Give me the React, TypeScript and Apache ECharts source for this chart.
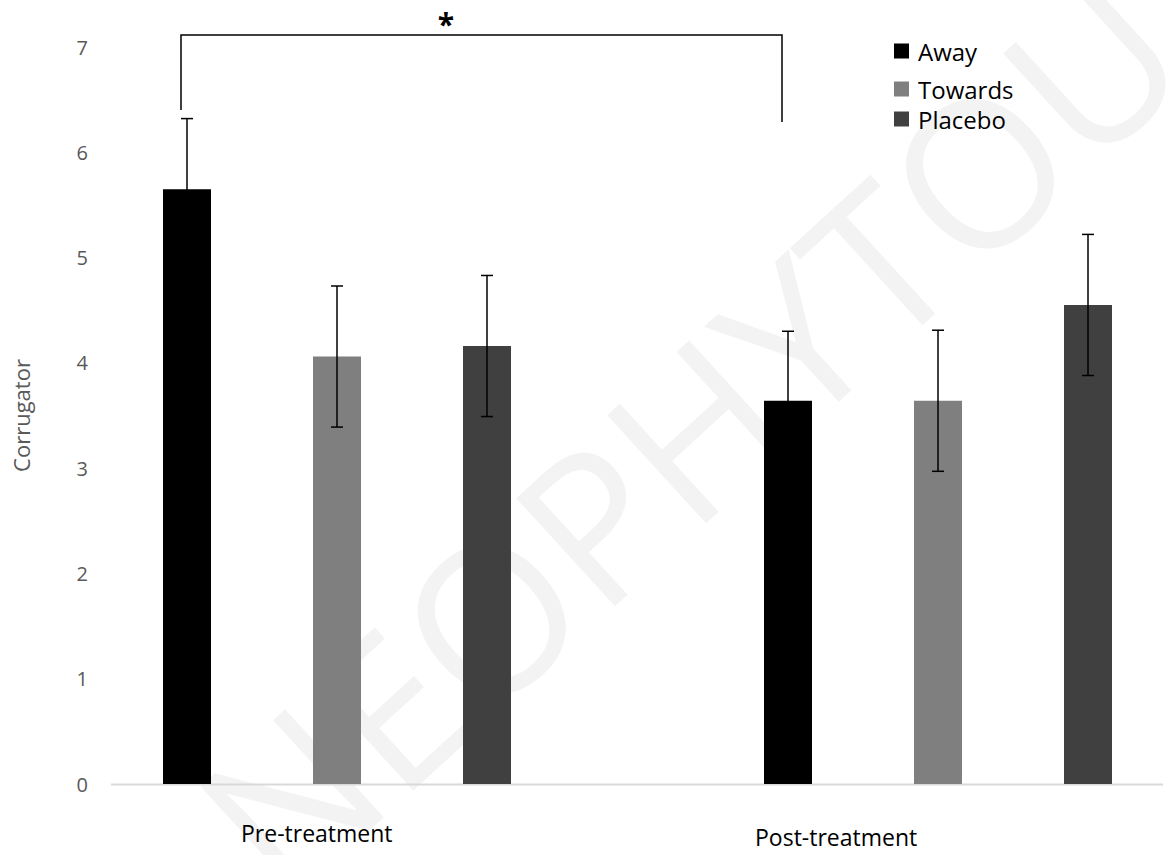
import React, { useEffect, useRef } from "react";
import * as echarts from "echarts";

const categories = ["Pre-treatment", "Post-treatment"];
const seriesNames = ["Away", "Towards", "Placebo"];
const awayMeans = [5.65, 3.64];
const towardsMeans = [4.06, 3.64];
const placeboMeans = [4.16, 4.55];
const awayErr = [0.67, 0.66];
const towardsErr = [0.67, 0.67];
const placeboErr = [0.67, 0.67];
const yTicks = [0, 1, 2, 3, 4, 5, 6, 7];

const COLORS = ["#000000", "#7f7f7f", "#404040"];
const BAR_WIDTH = 48;
const BAR_GAP = 2.125; // fraction of bar width
const FONT = "'Open Sans', sans-serif";

export default function App() {
  const ref = useRef<HTMLDivElement>(null);

  useEffect(() => {
    if (!ref.current) return;
    const chart = echarts.init(ref.current, null, { renderer: "svg" });

    const means = [awayMeans, towardsMeans, placeboMeans];
    const errs = [awayErr, towardsErr, placeboErr];
    const step = BAR_WIDTH * (1 + BAR_GAP);

    const barSeries = seriesNames.map((name, i) => ({
      name,
      type: "bar",
      data: means[i],
      barWidth: BAR_WIDTH,
      barGap: BAR_GAP * 100 + "%",
      itemStyle: { color: COLORS[i] },
      z: 2,
    }));

    const errSeries = seriesNames.map((name, i) => ({
      name: name + " error",
      type: "custom",
      z: 3,
      data: categories.map((_, c) => [c, means[i][c], errs[i][c]]),
      renderItem: (params: any, api: any) => {
        const c = api.value(0);
        const m = api.value(1);
        const e = api.value(2);
        const x = api.coord([c, m])[0] + (i - 1) * step;
        const yTop = api.coord([c, m + e])[1];
        const yBot = api.coord([c, m - e])[1];
        const st = { stroke: "#000", lineWidth: 1.5 };
        return {
          type: "group",
          children: [
            { type: "line", shape: { x1: x, y1: yTop, x2: x, y2: yBot }, style: st },
            { type: "line", shape: { x1: x - 6, y1: yTop, x2: x + 6, y2: yTop }, style: st },
            { type: "line", shape: { x1: x - 6, y1: yBot, x2: x + 6, y2: yBot }, style: st },
          ],
        };
      },
    }));

    const legendTops = [34, 72, 102];
    const legends = seriesNames.map((name, i) => ({
      data: [name],
      left: 889,
      top: legendTops[i],
      icon: "rect",
      itemWidth: 15,
      itemHeight: 15,
      selectedMode: false,
      textStyle: {
        fontFamily: FONT,
        fontSize: 24,
        color: "#000",
        lineHeight: 24,
        padding: [0, 0, 0, 4],
      },
    }));

    chart.setOption({
      animation: false,
      backgroundColor: "#ffffff",
      textStyle: { fontFamily: FONT },
      grid: { left: 337, right: 233, top: 47, bottom: 71, containLabel: false },
      legend: legends,
      xAxis: {
        type: "category",
        data: categories,
        boundaryGap: false,
        axisLine: { show: false },
        axisTick: { show: false },
        axisLabel: { show: false },
        splitLine: { show: false },
      },
      yAxis: {
        type: "value",
        min: yTicks[0],
        max: yTicks[yTicks.length - 1],
        interval: 1,
        offset: 226,
        name: "Corrugator",
        nameLocation: "middle",
        nameRotate: 90,
        nameGap: 79,
        nameTextStyle: { fontFamily: FONT, fontSize: 22, color: "#595959" },
        axisLine: { show: false },
        axisTick: { show: false },
        splitLine: { show: false },
        axisLabel: { fontFamily: FONT, fontSize: 20, color: "#595959", margin: 23 },
      },
      graphic: [
        {
          type: "text",
          x: 688,
          y: 432,
          rotation: 0.74,
          z: -10,
          silent: true,
          style: {
            text: "NEOPHYTOU",
            fontFamily: FONT,
            fontSize: 205,
            fill: "#f3f3f3",
            align: "center",
            verticalAlign: "middle",
          },
        },
        {
          type: "line",
          z: 1,
          shape: { x1: 111, y1: 784.5, x2: 1163, y2: 784.5 },
          style: { stroke: "#d9d9d9", lineWidth: 2 },
        },
        {
          type: "polyline",
          z: 10,
          shape: { points: [[181, 110], [181, 35], [782, 35], [782, 122]] },
          style: { stroke: "#000", lineWidth: 1.5, fill: null },
        },
        {
          type: "text",
          x: 446,
          y: 8,
          z: 10,
          style: {
            text: "*",
            fontFamily: FONT,
            fontSize: 30,
            fontWeight: "bold",
            fill: "#000",
            align: "center",
            verticalAlign: "top",
          },
        },
        {
          type: "text",
          x: 241,
          y: 833,
          z: 10,
          style: {
            text: categories[0],
            fontFamily: FONT,
            fontSize: 23,
            fill: "#000",
            align: "left",
            verticalAlign: "middle",
          },
        },
        {
          type: "text",
          x: 755,
          y: 837,
          z: 10,
          style: {
            text: categories[1],
            fontFamily: FONT,
            fontSize: 23,
            fill: "#000",
            align: "left",
            verticalAlign: "middle",
          },
        },
      ],
      series: [...barSeries, ...errSeries],
    });

    return () => chart.dispose();
  }, []);

  return (
    <div
      ref={ref}
      style={{ position: "fixed", left: 0, top: 0, width: 1171, height: 855, background: "#fff" }}
    />
  );
}
